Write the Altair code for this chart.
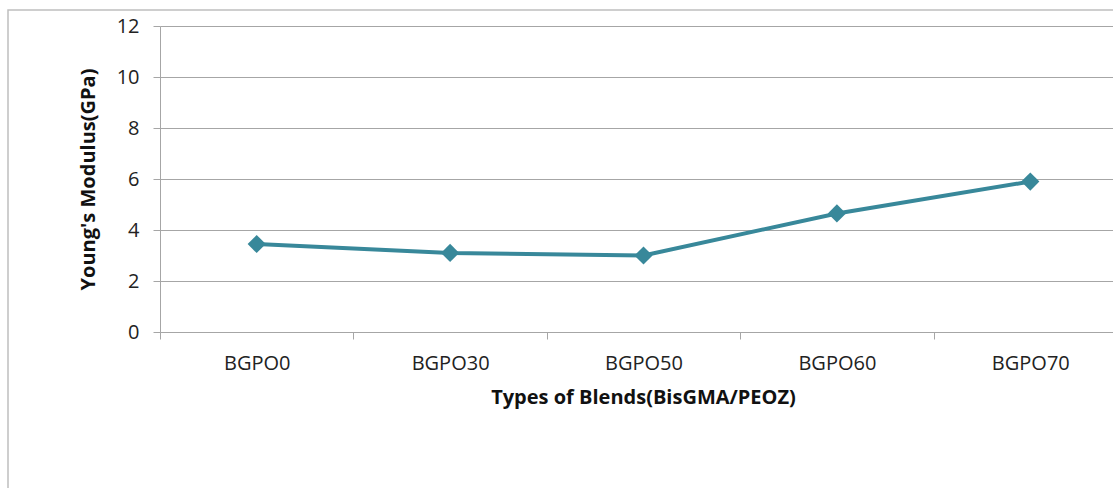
import altair as alt
import pandas as pd

blends = ["BGPO0", "BGPO30", "BGPO50", "BGPO60", "BGPO70"]
modulus = [3.45, 3.1, 3.0, 4.65, 5.9]

df = pd.DataFrame({"blend": blends, "modulus": modulus})

FONT = "Open Sans"
GRID = "#A6A6A6"
LINE = "#38889A"

x_enc = alt.X(
    "blend:N",
    sort=blends,
    bandPosition=0.5,
    scale=alt.Scale(type="band", paddingInner=0, paddingOuter=0, range=[0, 967]),
    axis=alt.Axis(
        title="Types of Blends(BisGMA/PEOZ)",
        labelAngle=0,
        tickBand="extent",
        grid=False,
        domainColor=GRID,
        tickColor=GRID,
        tickSize=7,
        labelPadding=14,
        titlePadding=14,
        titleX=483,
    ),
)
y_enc = alt.Y(
    "modulus:Q",
    scale=alt.Scale(domain=[0, 12], nice=False),
    axis=alt.Axis(
        title="Young's Modulus(GPa)",
        values=[0, 2, 4, 6, 8, 10, 12],
        grid=True,
        gridColor=GRID,
        domainColor=GRID,
        tickColor=GRID,
        tickSize=7,
        labelPadding=14,
        titlePadding=18,
    ),
)

line = alt.Chart(df).mark_line(
    color=LINE, strokeWidth=4,
    point=alt.OverlayMarkDef(shape="diamond", size=330, filled=True, color=LINE, opacity=1),
).encode(x=x_enc, y=y_enc)

border = alt.Chart(pd.DataFrame({"a": [0]})).mark_rect(
    fill=None, stroke="#BFBFBF", strokeWidth=1.5
).encode(
    x=alt.value(-152), x2=alt.value(1100), y=alt.value(-16), y2=alt.value(700)
)

chart = alt.layer(border, line).properties(
    width=953, height=306,
    background="white",
    autosize=alt.AutoSizeParams(type="none"),
    padding={"left": 160, "top": 26, "right": 0, "bottom": 156},
).configure_view(stroke=None).configure_axis(
    labelFont=FONT, labelFontSize=20, labelColor="#222222",
    titleFont=FONT, titleFontSize=20, titleFontWeight="bold", titleColor="#111111",
)

chart.save("out.html", embed_options={"renderer": "svg", "actions": False})
